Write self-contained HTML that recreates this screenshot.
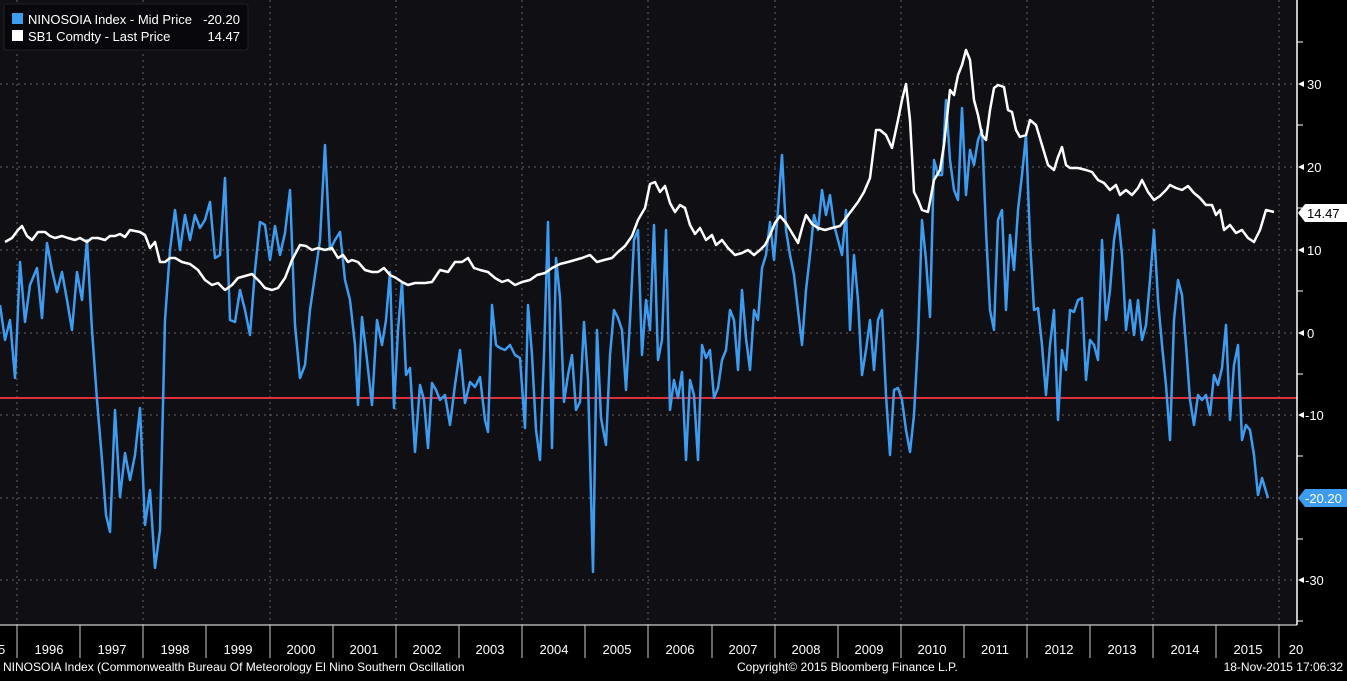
<!DOCTYPE html>
<html><head><style>
body{margin:0;background:#000;width:1347px;height:676px;overflow:hidden;font-family:"Liberation Sans",sans-serif}
</style></head><body>
<svg width="1347" height="676" xmlns="http://www.w3.org/2000/svg" font-family="Liberation Sans, sans-serif">
<rect x="0" y="0" width="1347" height="676" fill="#000"/>
<rect x="0" y="0" width="1297" height="625" fill="#0f0f14"/>
<g stroke="#666" stroke-dasharray="2,4" stroke-width="1">
<line x1="0" x2="1297" y1="84" y2="84"/><line x1="0" x2="1297" y1="167" y2="167"/><line x1="0" x2="1297" y1="250" y2="250"/><line x1="0" x2="1297" y1="333" y2="333"/><line x1="0" x2="1297" y1="415" y2="415"/><line x1="0" x2="1297" y1="498" y2="498"/><line x1="0" x2="1297" y1="580" y2="580"/>
<line x1="17" x2="17" y1="0" y2="625"/><line x1="143" x2="143" y1="0" y2="625"/><line x1="270" x2="270" y1="0" y2="625"/><line x1="396" x2="396" y1="0" y2="625"/><line x1="522" x2="522" y1="0" y2="625"/><line x1="648" x2="648" y1="0" y2="625"/><line x1="775" x2="775" y1="0" y2="625"/><line x1="901" x2="901" y1="0" y2="625"/><line x1="1027" x2="1027" y1="0" y2="625"/><line x1="1153" x2="1153" y1="0" y2="625"/><line x1="1279" x2="1279" y1="0" y2="625"/>
</g>
<line x1="0" x2="1297" y1="398" y2="398" stroke="#e0303a" stroke-width="2"/>
<polyline fill="none" stroke="#3d9cf0" stroke-width="2.5" stroke-linejoin="round" points="0,305 5,340 10,320 15,378 20,262 25,322 30,285 37,268 42,318 47,243 52,270 57,292 62,272 67,300 72,330 77,272 82,300 87,240 92,330 97,400 102,460 106,515 110,532 115,410 120,497 125,453 130,480 135,455 140,408 145,525 150,490 155,568 160,530 165,320 170,250 175,210 180,250 185,215 190,240 195,215 200,228 205,220 210,202 215,258 220,255 225,178 230,320 235,322 240,290 245,310 250,335 255,270 260,222 265,225 270,260 275,226 280,255 285,233 290,190 295,325 300,378 305,365 310,310 315,275 320,240 325,145 330,250 335,240 340,232 345,280 350,300 355,345 358,405 362,317 367,360 372,405 377,320 382,345 386,320 390,272 394,408 398,330 402,282 406,375 410,368 415,452 420,385 424,400 428,448 432,383 436,390 440,400 445,395 450,425 455,385 460,350 465,403 470,382 475,387 480,377 485,420 488,432 492,305 496,345 500,348 505,350 510,345 515,355 520,358 525,428 528,305 532,355 536,430 540,460 544,355 548,222 552,448 556,258 560,298 564,402 568,375 572,355 576,410 580,402 584,322 588,380 593,572 597,330 601,418 606,445 610,355 614,310 618,318 622,330 626,390 630,320 634,240 638,230 642,355 646,300 650,330 654,225 658,360 662,340 666,230 670,410 674,380 678,398 682,372 686,460 690,380 694,395 698,460 702,345 706,358 710,350 714,398 718,388 722,360 726,350 730,310 734,320 738,370 742,290 746,338 750,370 754,310 758,320 762,268 766,255 770,222 774,260 778,210 782,155 786,230 790,255 794,275 798,310 802,345 806,290 810,255 814,215 818,230 822,190 826,215 830,195 834,225 838,240 842,255 846,210 850,330 854,255 858,300 862,375 866,350 870,320 874,370 878,320 882,310 886,395 890,455 894,390 898,388 902,400 906,430 910,452 914,415 918,340 922,220 926,260 930,317 934,160 938,175 942,175 946,100 950,160 954,190 958,200 962,108 966,195 970,150 974,165 978,140 982,130 986,230 990,310 994,330 998,220 1002,210 1006,310 1010,235 1014,270 1018,210 1022,175 1026,135 1030,240 1034,310 1038,308 1042,345 1046,395 1050,345 1054,310 1058,420 1062,350 1066,370 1070,310 1074,312 1078,300 1082,298 1086,380 1090,340 1094,345 1098,360 1102,240 1106,320 1110,290 1114,240 1118,215 1122,255 1126,330 1130,300 1134,335 1138,300 1142,340 1146,325 1150,280 1154,230 1158,300 1162,345 1166,385 1170,440 1174,320 1178,280 1182,295 1186,345 1190,400 1194,425 1198,395 1202,400 1206,395 1210,415 1214,375 1218,385 1222,368 1226,325 1230,420 1234,365 1238,345 1242,440 1246,425 1250,430 1254,455 1258,495 1262,478 1268,498"/>
<polyline fill="none" stroke="#fff" stroke-width="2.5" stroke-linejoin="round" points="5,242 12,238 18,230 22,226 27,236 32,240 38,232 45,232 50,236 55,238 62,236 68,238 75,240 80,238 87,242 92,238 98,238 105,240 110,236 115,236 120,234 125,237 130,230 135,231 140,232 145,235 150,248 155,242 160,262 165,262 170,258 175,258 182,262 190,264 198,270 205,280 212,285 218,283 225,290 232,285 238,278 245,276 252,274 260,282 265,288 272,290 278,288 285,278 292,260 300,245 306,246 312,250 318,248 325,250 332,248 338,258 343,255 348,262 352,260 358,262 365,270 372,272 378,272 384,268 390,275 396,278 402,282 408,285 415,283 425,283 432,282 440,270 448,272 455,262 462,262 468,258 474,268 480,270 488,272 495,278 502,282 508,280 515,285 522,282 530,280 537,275 545,273 552,268 560,264 568,262 575,260 582,258 590,255 597,262 604,260 612,258 618,252 625,246 632,236 638,220 645,208 650,184 655,182 660,192 665,186 670,203 675,212 680,205 685,208 690,225 695,234 700,228 706,240 712,235 716,245 722,240 728,248 735,255 742,253 748,250 754,255 760,250 765,245 770,235 775,223 780,216 786,223 792,233 798,243 802,228 806,215 812,224 818,228 825,230 832,228 840,226 846,218 852,210 858,202 864,192 870,178 876,130 880,130 886,135 892,148 898,120 902,100 906,84 910,120 914,192 918,200 922,210 928,212 934,180 940,170 944,145 950,90 954,95 958,75 962,65 966,50 970,60 974,100 978,115 982,135 986,140 990,110 994,88 998,85 1004,87 1008,110 1012,112 1016,130 1020,137 1026,135 1030,120 1036,125 1042,145 1048,165 1054,170 1058,157 1062,147 1066,165 1070,168 1078,168 1086,170 1092,172 1098,180 1104,183 1110,190 1116,185 1120,195 1126,190 1132,195 1138,188 1142,180 1148,192 1154,200 1160,196 1166,190 1170,185 1176,188 1182,190 1188,186 1194,193 1200,198 1206,205 1212,205 1216,215 1220,210 1224,230 1230,225 1236,233 1242,230 1248,238 1254,242 1260,230 1266,210 1270,211 1274,212"/>
<!-- right axis -->
<line x1="1297" x2="1297" y1="0" y2="625" stroke="#fff" stroke-width="1.5"/>
<g stroke="#fff" stroke-width="1"><line x1="1297" x2="1303" y1="42" y2="42"/><line x1="1297" x2="1303" y1="125" y2="125"/><line x1="1297" x2="1303" y1="208" y2="208"/><line x1="1297" x2="1303" y1="291" y2="291"/><line x1="1297" x2="1303" y1="374" y2="374"/><line x1="1297" x2="1303" y1="456" y2="456"/><line x1="1297" x2="1303" y1="539" y2="539"/><line x1="1297" x2="1303" y1="621" y2="621"/></g>
<g fill="#fff" font-size="13"><text x="1307" y="89">30</text><text x="1307" y="172">20</text><text x="1307" y="255">10</text><text x="1307" y="338">0</text><text x="1305" y="420">-10</text><text x="1305" y="585">-30</text></g>
<g fill="#fff"><polygon points="1298,84 1304,81 1304,87"/><polygon points="1298,167 1304,164 1304,170"/><polygon points="1298,250 1304,247 1304,253"/><polygon points="1298,333 1304,330 1304,336"/><polygon points="1298,415 1304,412 1304,418"/><polygon points="1298,580 1304,577 1304,583"/></g>
<polygon points="1298,213 1305,204 1347,204 1347,222 1305,222" fill="#fff"/>
<text x="1307" y="218" font-size="13" fill="#000">14.47</text>
<polygon points="1298,498 1305,489 1347,489 1347,507 1305,507" fill="#3d9cf0"/>
<text x="1305" y="503" font-size="13" fill="#fff">-20.20</text>
<!-- bottom axis -->
<line x1="0" x2="1297" y1="625" y2="625" stroke="#fff"/>
<g stroke="#ccc"><line x1="17" x2="17" y1="625" y2="658"/><line x1="80" x2="80" y1="625" y2="658"/><line x1="143" x2="143" y1="625" y2="658"/><line x1="206" x2="206" y1="625" y2="658"/><line x1="270" x2="270" y1="625" y2="658"/><line x1="333" x2="333" y1="625" y2="658"/><line x1="396" x2="396" y1="625" y2="658"/><line x1="459" x2="459" y1="625" y2="658"/><line x1="522" x2="522" y1="625" y2="658"/><line x1="585" x2="585" y1="625" y2="658"/><line x1="648" x2="648" y1="625" y2="658"/><line x1="712" x2="712" y1="625" y2="658"/><line x1="775" x2="775" y1="625" y2="658"/><line x1="838" x2="838" y1="625" y2="658"/><line x1="901" x2="901" y1="625" y2="658"/><line x1="964" x2="964" y1="625" y2="658"/><line x1="1027" x2="1027" y1="625" y2="658"/><line x1="1090" x2="1090" y1="625" y2="658"/><line x1="1153" x2="1153" y1="625" y2="658"/><line x1="1216" x2="1216" y1="625" y2="658"/><line x1="1279" x2="1279" y1="625" y2="658"/></g>
<g fill="#fff" font-size="13" text-anchor="middle"><text x="-2" y="654">95</text><text x="49" y="654">1996</text><text x="112" y="654">1997</text><text x="175" y="654">1998</text><text x="238" y="654">1999</text><text x="301" y="654">2000</text><text x="364" y="654">2001</text><text x="427" y="654">2002</text><text x="490" y="654">2003</text><text x="554" y="654">2004</text><text x="617" y="654">2005</text><text x="680" y="654">2006</text><text x="743" y="654">2007</text><text x="806" y="654">2008</text><text x="869" y="654">2009</text><text x="932" y="654">2010</text><text x="995" y="654">2011</text><text x="1059" y="654">2012</text><text x="1122" y="654">2013</text><text x="1185" y="654">2014</text><text x="1248" y="654">2015</text><text x="1296" y="654">20</text></g>
<g fill="#fff" font-size="12"><text x="3" y="671">NINOSOIA Index (Commonwealth Bureau Of Meteorology El Nino Southern Oscillation</text><text x="737" y="671">Copyright© 2015 Bloomberg Finance L.P.</text><text x="1343" y="671" text-anchor="end">18-Nov-2015 17:06:32</text></g>
<!-- legend -->
<rect x="4" y="4" width="244" height="46" rx="3" fill="#08080c" stroke="#222"/>
<rect x="12" y="13" width="11" height="11" fill="#3d9cf0"/><rect x="12" y="30" width="11" height="11" fill="#fff"/>
<g fill="#fff" font-size="13"><text x="28" y="24">NINOSOIA Index - Mid Price</text><text x="240" y="24" text-anchor="end">-20.20</text><text x="28" y="41">SB1 Comdty - Last Price</text><text x="240" y="41" text-anchor="end">14.47</text></g>
</svg>
</body></html>
